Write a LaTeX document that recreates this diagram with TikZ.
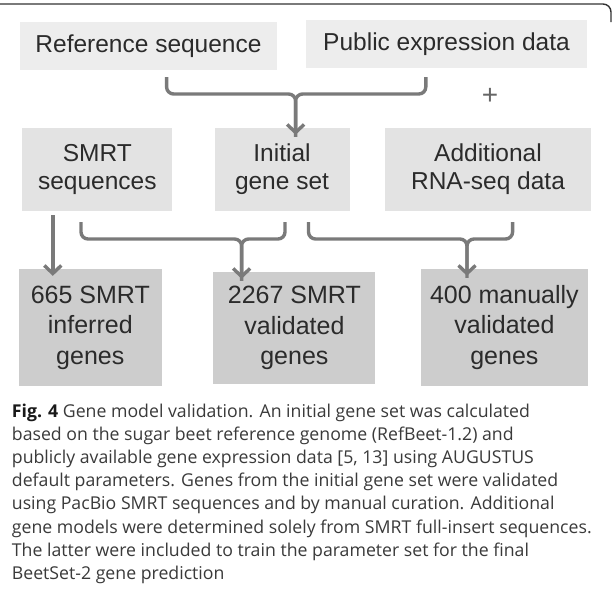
\documentclass[tikz,border=0pt]{standalone}
\usepackage{fontspec}
\usetikzlibrary{arrows.meta}
\newfontfamily\dfont{Liberation Sans}
\newfontfamily\cfont{Open Sans}
\definecolor{boxA}{HTML}{EDEDED}
\definecolor{boxB}{HTML}{E3E3E3}
\definecolor{boxC}{HTML}{CDCDCD}
\definecolor{dtext}{HTML}{2B2B2B}
\definecolor{ctext}{HTML}{3A3A3A}
\definecolor{lcol}{HTML}{7A7A7A}
\begin{document}
\begin{tikzpicture}[x=1pt,y=-1pt,
  box/.style={inner sep=0pt, align=center, text=dtext, font=\dfont\fontsize{24.5}{28}\selectfont},
  boxr1/.style={box, fill=boxA},
  boxr2/.style={box, fill=boxB},
  boxr3/.style={box, fill=boxC, font=\dfont\fontsize{25}{30.5}\selectfont},
  brk/.style={draw=lcol, line width=3.4pt, rounded corners=7pt},
  arr/.style={draw=lcol, line width=3.4pt, rounded corners=7pt, -{Straight Barb[length=8pt,width=17pt]}},
  capline/.style={anchor=base west, inner sep=0pt, text=ctext, font=\cfont\fontsize{17.7}{23}\selectfont}
]
\useasboundingbox (0,0) rectangle (613,614);
\fill[white] (0,0) rectangle (613,614);
% frame
\draw[line width=1.4pt, color=black!80] (0,4) -- (603,4) to[out=0,in=90] (611,12) -- (611,22);

% row 1
\node[boxr1, minimum width=257pt, minimum height=48pt] (ref) at (148.5,46) {Reference sequence};
\node[boxr1, minimum width=281pt, minimum height=48pt] (pub) at (446.5,44) {Public expression data};
\node[text=black!60, font=\dfont\fontsize{28}{28}\selectfont, inner sep=0pt] (plus) at (490,96) {+};

% row 2
\node[boxr2, minimum width=150pt, minimum height=83pt] (smrt) at (97.3,169.5) {SMRT\\sequences};
\node[boxr2, minimum width=135pt, minimum height=83pt] (init) at (282,169.5) {Initial\\gene set};
\node[boxr2, minimum width=206pt, minimum height=83pt] (rna) at (488,169.5) {Additional\\RNA-seq data};

% row 3
\node[boxr3, minimum width=143pt, minimum height=117pt] (g665) at (90.3,327.5) {665 SMRT\\inferred\\genes};
\node[boxr3, minimum width=162pt, minimum height=112pt] (g2267) at (294.4,328) {2267 SMRT\\validated\\genes};
\node[boxr3, minimum width=167pt, minimum height=117pt] (g400) at (504.4,327.5) {400 manually\\validated\\genes};

% bracket 1
\coordinate (b1l) at (166.6,77);
\coordinate (b1r) at (425.8,77);
\coordinate (j1) at (295.6,94);
\draw[brk] (b1r) |- (j1) -- ([yshift=-9pt]j1 |- init.north);
\draw[arr] (b1l) |- (j1) -- ([yshift=-7pt]j1 |- init.north);

% SMRT arrow
\coordinate (a1) at (52.8,215);
\draw[arr] (a1) -- ([yshift=-7pt]a1 |- g665.north);

% bracket 2
\coordinate (b2l) at (81,222);
\coordinate (b2r) at (285,222);
\coordinate (j2) at (241.6,239);
\draw[brk] (b2l) |- (j2) -- ([yshift=-9pt]j2 |- g2267.north);
\draw[arr] (b2r) |- (j2) -- ([yshift=-7pt]j2 |- g2267.north);

% bracket 3
\coordinate (b3l) at (308.5,222);
\coordinate (b3r) at (512.6,222);
\coordinate (j3) at (467,239);
\draw[brk] (b3l) |- (j3) -- ([yshift=-9pt]j3 |- g400.north);
\draw[arr] (b3r) |- (j3) -- ([yshift=-7pt]j3 |- g400.north);

% caption
\node[capline] (c1) at (11.7,417) {\textbf{\color{black!90}Fig. 4} Gene model validation. An initial gene set was calculated};
\node[capline] (c2) at (11.7,440.2) {based on the sugar beet reference genome (RefBeet-1.2) and};
\node[capline] (c3) at (11.7,463.4) {publicly available gene expression data [5, 13] using AUGUSTUS};
\node[capline] (c4) at (11.7,486.6) {default parameters. Genes from the initial gene set were validated};
\node[capline] (c5) at (11.7,509.8) {using PacBio SMRT sequences and by manual curation. Additional};
\node[capline] (c6) at (11.7,533) {gene models were determined solely from SMRT full-insert sequences.};
\node[capline] (c7) at (11.7,556.2) {The latter were included to train the parameter set for the final};
\node[capline] (c8) at (11.7,579.4) {BeetSet-2 gene prediction};
\end{tikzpicture}
\end{document}
